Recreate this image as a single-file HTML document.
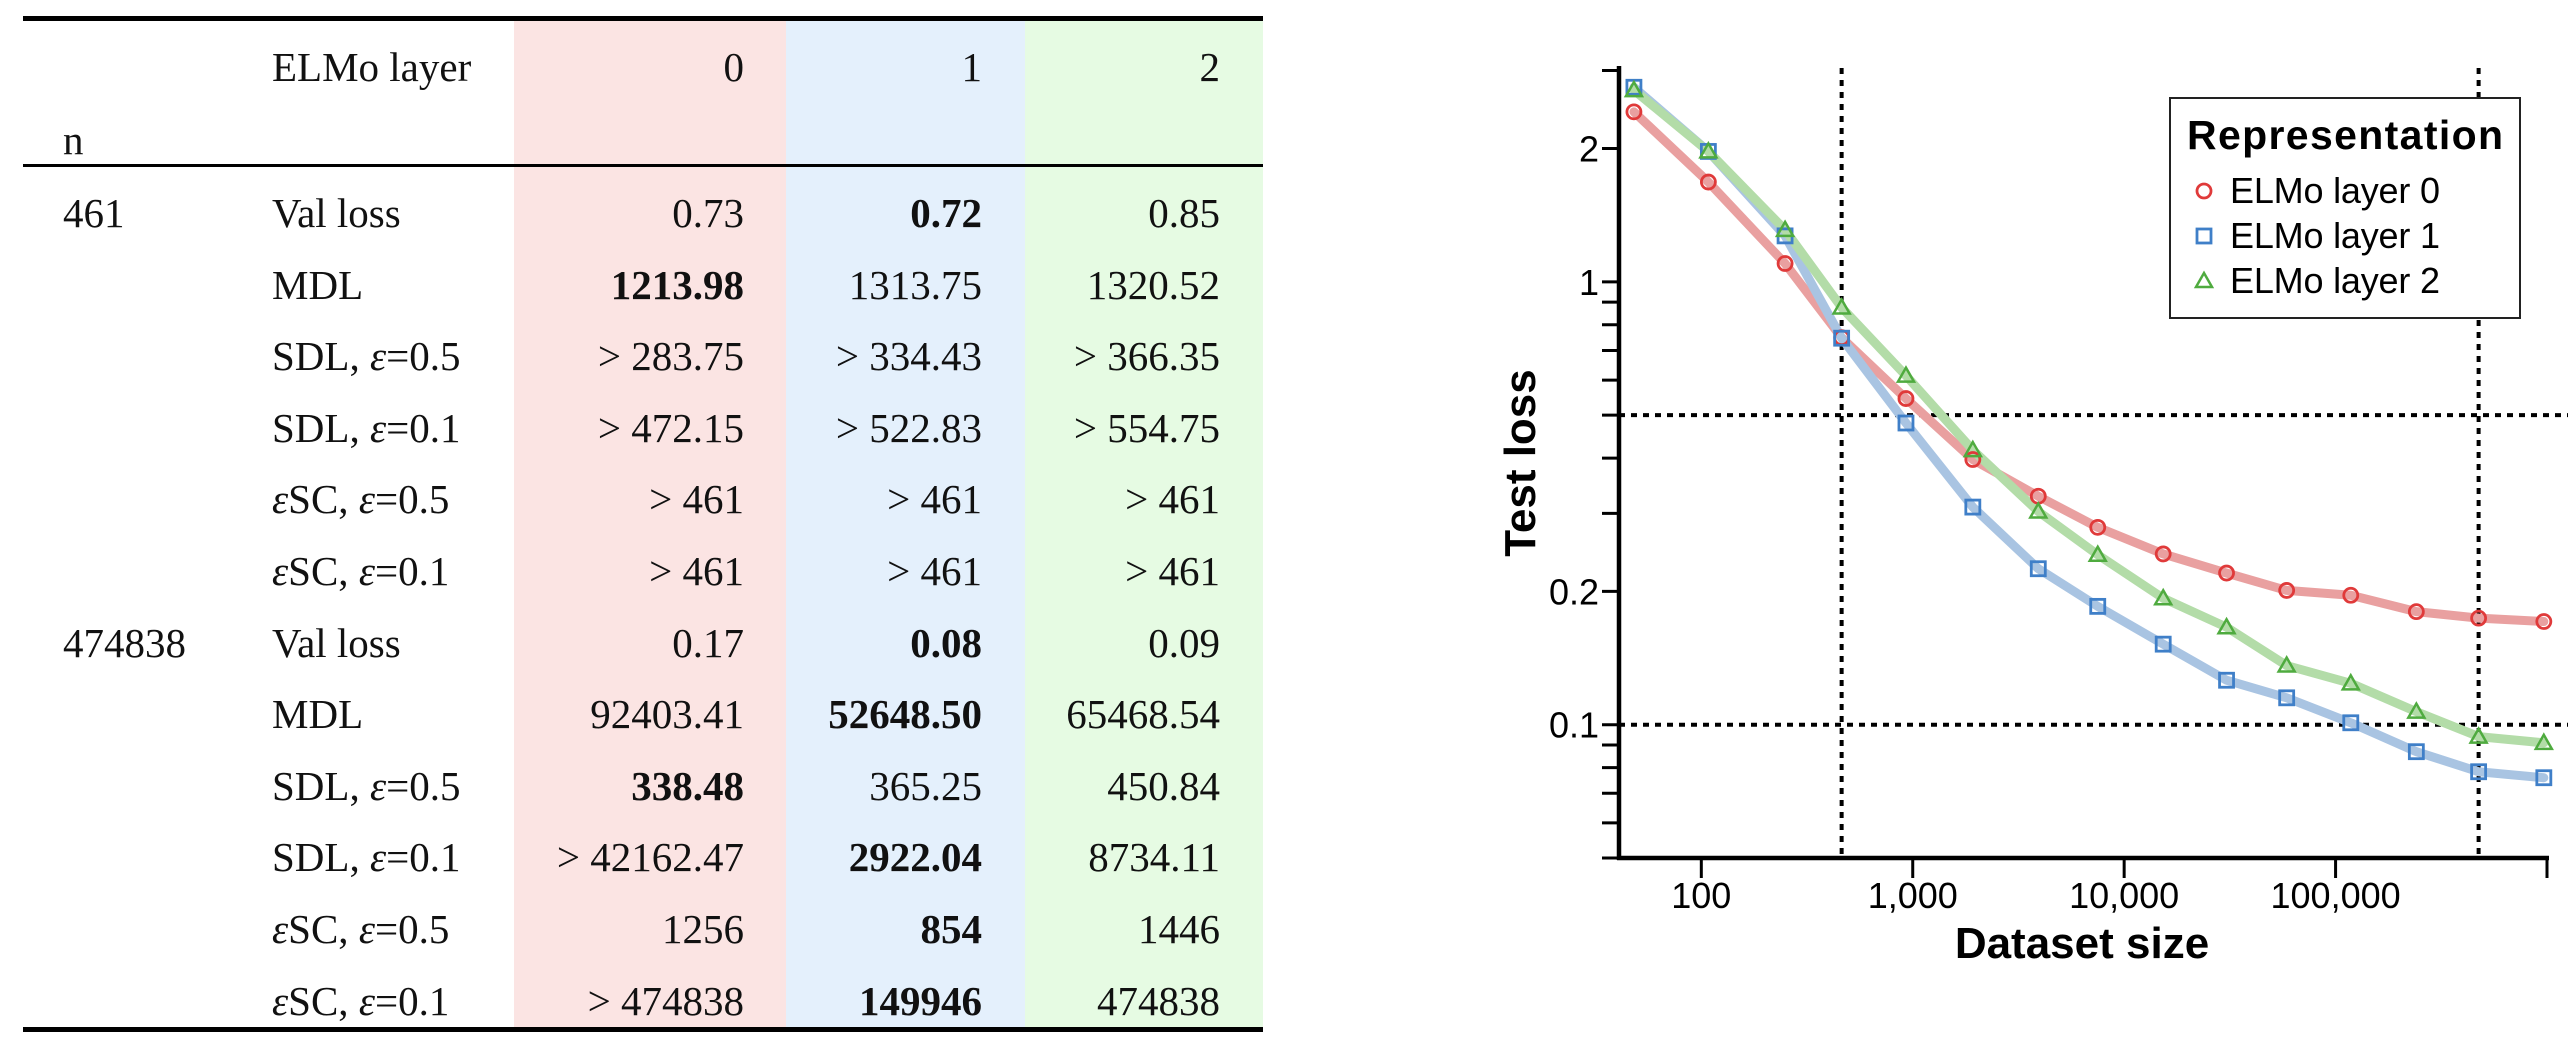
<!DOCTYPE html>
<html><head><meta charset="utf-8">
<style>
html,body{margin:0;padding:0;background:#fff;}
body{width:2568px;height:1050px;position:relative;overflow:hidden;font-family:"Liberation Serif",serif;}
#tbl{position:absolute;left:0;top:0;width:1300px;height:1050px;}
.bg{position:absolute;top:19px;height:1011px;}
.rule{position:absolute;left:23px;width:1240px;background:#000;}
.t{position:absolute;font-size:41px;line-height:1;white-space:nowrap;color:#111;}
.r{text-align:right;}
.b{font-weight:bold;}
.t i{font-style:italic;}
</style></head><body>
<div id="tbl">
  <div class="bg" style="left:514px;width:272px;background:#fbe4e3;"></div>
  <div class="bg" style="left:786px;width:239px;background:#e4f0fc;"></div>
  <div class="bg" style="left:1025px;width:238px;background:#e6fbe3;"></div>
  <div class="rule" style="top:16px;height:5px;"></div>
  <div class="rule" style="top:164px;height:3px;"></div>
  <div class="rule" style="top:1027px;height:5px;"></div>
</div>
<svg id="chart" width="2568" height="1050" style="position:absolute;left:0;top:0;" xmlns="http://www.w3.org/2000/svg"></svg>
<script>
// ---------- table data ----------
const headerLayers = ["0","1","2"];
const rowN = ["461","","","","","","474838","","","","","",""];
const rowMetric = ["Val loss","MDL","SDL, <i>\u03b5</i>=0.5","SDL, <i>\u03b5</i>=0.1","<i>\u03b5</i>SC, <i>\u03b5</i>=0.5","<i>\u03b5</i>SC, <i>\u03b5</i>=0.1","Val loss","MDL","SDL, <i>\u03b5</i>=0.5","SDL, <i>\u03b5</i>=0.1","<i>\u03b5</i>SC, <i>\u03b5</i>=0.5","<i>\u03b5</i>SC, <i>\u03b5</i>=0.1"];
const col0 = ["0.73","1213.98","> 283.75","> 472.15","> 461","> 461","0.17","92403.41","338.48","> 42162.47","1256","> 474838"];
const col1 = ["0.72","1313.75","> 334.43","> 522.83","> 461","> 461","0.08","52648.50","365.25","2922.04","854","149946"];
const col2 = ["0.85","1320.52","> 366.35","> 554.75","> 461","> 461","0.09","65468.54","450.84","8734.11","1446","474838"];
const bold0 = [0,1,0,0,0,0,0,0,1,0,0,0];
const bold1 = [1,0,0,0,0,0,1,1,0,1,1,1];
const bold2 = [0,0,0,0,0,0,0,0,0,0,0,0];

const tbl = document.getElementById('tbl');
function cell(txt, x, y, right, bold, name, html){
  const d = document.createElement('div');
  d.className = 't' + (right ? ' r' : '') + (bold ? ' b' : '');
  if (html) d.innerHTML = txt; else d.textContent = txt;
  
  
  if (right){ d.style.right = (1300 - x) + 'px'; } else { d.style.left = x + 'px'; }
  d.style.top = (y - 31) + 'px';
  tbl.appendChild(d);
}
cell("ELMo layer", 272, 78, false, false, 'header-elmo-layer');
cell("n", 63, 151, false, false, 'header-n');
const colRight = [744, 982, 1220];
headerLayers.forEach((h,i)=>cell(h, colRight[i], 78, true, false, 'header-layer-'+h));
const cols = [col0,col1,col2], bolds=[bold0,bold1,bold2];
rowMetric.forEach((m,r)=>{
  const y = 224 + r*71.6;
  if (r===0) cell(rowN[0], 63, y, false, false, 'n-value');
  if (r===6) cell(rowN[6], 63, y, false, false, 'n-value');
  cell(m, 272, y, false, false, 'metric-label', true);
  cols.forEach((c,i)=>cell(c[r], colRight[i], y, true, bolds[i][r], 'value-cell'));
});

// ---------- chart data ----------
const datasetSizes = [48,108,249,461,929,1924,3925,7500,15300,30500,58700,118000,241000,474838,966000];
const layer0Loss = [2.42,1.68,1.10,0.748,0.545,0.397,0.328,0.279,0.243,0.220,0.201,0.196,0.180,0.174,0.171];
const layer1Loss = [2.75,1.97,1.27,0.746,0.480,0.310,0.225,0.185,0.152,0.126,0.115,0.101,0.0869,0.0783,0.0759];
const layer2Loss = [2.71,1.97,1.31,0.875,0.614,0.417,0.303,0.242,0.193,0.166,0.136,0.124,0.107,0.094,0.091];
const xTickValues = [100,1000,10000,100000,1000000];
const xTickLabels = ["100","1,000","10,000","100,000",""];
const yTickValues = [3,2,1,0.9,0.8,0.7,0.6,0.5,0.4,0.3,0.2,0.1,0.09,0.08,0.07,0.06,0.05];
const yLabelValues = [2,1,0.2,0.1];
const yLabelText = ["2","1","0.2","0.1"];
const refX = [461,474838];
const refY = [0.5,0.1];
const seriesNames = ["ELMo layer 0","ELMo layer 1","ELMo layer 2"];

const svg = document.getElementById('chart');
const NS = 'http://www.w3.org/2000/svg';
const X0=1619, X1=2547, Y0=858, Y1=68;
const xMin=Math.log10(40.8), xMax=6, yMin=Math.log10(0.05), yMax=Math.log10(3.04);
const xs = v => X0 + (Math.log10(v)-xMin)/(xMax-xMin)*(X1-X0);
const ys = v => Y0 - (Math.log10(v)-yMin)/(yMax-yMin)*(Y0-Y1);
function el(tag, attrs, parent){
  const e = document.createElementNS(NS, tag);
  for (const k in attrs) e.setAttribute(k, attrs[k]);
  (parent||svg).appendChild(e);
  return e;
}
refX.forEach(v=>{
  const l = el('line',{x1:xs(v),x2:xs(v),y1:Y1,y2:Y0,stroke:'#000','stroke-width':4,'stroke-dasharray':'6,6'});
  
  
});
refY.forEach(v=>{
  const l = el('line',{x1:X0,x2:2568,y1:ys(v),y2:ys(v),stroke:'#000','stroke-width':4,'stroke-dasharray':'6,6'});
  
  
});
const colors = ['#e03a3a','#3f7fc8','#4fab3f'];
const lineColors = ['#e9a0a0','#a9c4e2','#b3dca8'];
[layer0Loss,layer1Loss,layer2Loss].forEach((vals,si)=>{
  const pts = vals.map((v,i)=>xs(datasetSizes[i])+','+ys(v)).join(' ');
  const pl = el('polyline',{points:pts,fill:'none',stroke:lineColors[si],'stroke-width':9,'stroke-linejoin':'round','stroke-linecap':'round'});
  
  
});
function marker(kind, cx, cy, color, name){
  let m;
  if (kind===0) m = el('circle',{cx:cx,cy:cy,r:7,fill:'none',stroke:color,'stroke-width':2.8});
  else if (kind===1) m = el('rect',{x:cx-7,y:cy-7,width:14,height:14,fill:'none',stroke:color,'stroke-width':2.8});
  else m = el('polygon',{points:`${cx},${cy-8} ${cx+8},${cy+6} ${cx-8},${cy+6}`,fill:'none',stroke:color,'stroke-width':2.5});
  
  
  return m;
}
[layer0Loss,layer1Loss,layer2Loss].forEach((vals,si)=>{
  vals.forEach((v,i)=>marker(si, xs(datasetSizes[i]), ys(v), colors[si], 'point-layer-'+si));
});
const ya = el('line',{x1:X0,x2:X0,y1:Y1-2,y2:Y0+2,stroke:'#000','stroke-width':4.5});
 
const xa = el('line',{x1:X0-2,x2:X1+2,y1:Y0,y2:Y0,stroke:'#000','stroke-width':4.5});
 
yTickValues.forEach(v=>{
  const t = el('line',{x1:X0-17,x2:X0,y1:ys(v),y2:ys(v),stroke:'#000','stroke-width':3});
   
});
yLabelValues.forEach((v,i)=>{
  const t = el('text',{x:1599,y:ys(v)+13,'text-anchor':'end','font-family':'Liberation Sans, sans-serif','font-size':36,fill:'#000'});
  t.textContent = yLabelText[i];
   
});
xTickValues.forEach((v,i)=>{
  const t = el('line',{x1:xs(v),x2:xs(v),y1:Y0,y2:Y0+20,stroke:'#000','stroke-width':3});
   
  const l = el('text',{x:xs(v),y:908,'text-anchor':'middle','font-family':'Liberation Sans, sans-serif','font-size':36,fill:'#000'});
  l.textContent = xTickLabels[i];
   
});
const xt = el('text',{x:2082,y:958,'text-anchor':'middle','font-family':'Liberation Sans, sans-serif','font-size':44,'font-weight':'bold',fill:'#000'});
xt.textContent = 'Dataset size';
 
const yt = el('text',{x:0,y:0,transform:'translate(1535,463) rotate(-90)','text-anchor':'middle','font-family':'Liberation Sans, sans-serif','font-size':44,'font-weight':'bold',fill:'#000'});
yt.textContent = 'Test loss';
 
const lg = el('g',{});
 
el('rect',{x:2170,y:98,width:350,height:220,fill:'#fff',stroke:'#222','stroke-width':2},lg);
const lt = el('text',{x:2187,y:149,'font-family':'Liberation Sans, sans-serif','font-size':41,'font-weight':'bold',fill:'#000',textLength:316},lg);
lt.textContent = 'Representation';
 
seriesNames.forEach((n,i)=>{
  const y = 203 + i*45;
  const m = marker(i, 2204, y-12, colors[i], 'legend-marker');
  lg.appendChild(m);
  const t = el('text',{x:2230,y:y,'font-family':'Liberation Sans, sans-serif','font-size':36,fill:'#000',textLength:210},lg);
  t.textContent = n;
   
});
</script>
</body></html>
